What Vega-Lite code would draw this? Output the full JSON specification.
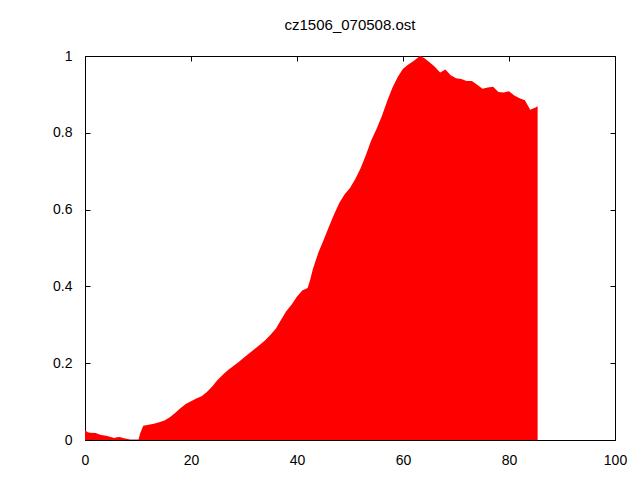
{
  "$schema": "https://vega.github.io/schema/vega-lite/v6.json",
  "width": 530,
  "height": 384,
  "autosize": {"type": "none"},
  "padding": {"left": 85, "top": 56, "right": 25, "bottom": 40},
  "background": "white",
  "title": {"text": "cz1506_070508.ost", "font": "Liberation Sans", "fontSize": 15, "fontWeight": "normal", "color": "black", "anchor": "middle", "baseline": "alphabetic", "offset": 4},
  "config": {
    "view": {"stroke": null},
    "axis": {"labelFont": "Liberation Sans", "labelFontSize": 14, "labelColor": "black", "domainColor": "black", "domainWidth": 1, "tickColor": "black", "tickWidth": 1, "grid": false, "zindex": 1, "title": null}
  },
  "data": {"values": [
    {"x": 0, "y": 0.026}, {"x": 0.5, "y": 0.02}, {"x": 1, "y": 0.019}, {"x": 2, "y": 0.018},
    {"x": 3, "y": 0.013}, {"x": 4, "y": 0.011}, {"x": 5, "y": 0.007}, {"x": 5.5, "y": 0.005},
    {"x": 6, "y": 0.007}, {"x": 6.6, "y": 0.008}, {"x": 7, "y": 0.006}, {"x": 7.6, "y": 0.004},
    {"x": 8.5, "y": 0.001}, {"x": 10.1, "y": 0.001}, {"x": 10.4, "y": 0.017}, {"x": 11, "y": 0.037},
    {"x": 12, "y": 0.04}, {"x": 13, "y": 0.042}, {"x": 14, "y": 0.046}, {"x": 15, "y": 0.051},
    {"x": 16, "y": 0.059}, {"x": 17, "y": 0.07}, {"x": 18, "y": 0.083}, {"x": 19, "y": 0.094},
    {"x": 20, "y": 0.101}, {"x": 21, "y": 0.108}, {"x": 22, "y": 0.114}, {"x": 23, "y": 0.125},
    {"x": 24, "y": 0.139}, {"x": 25, "y": 0.156}, {"x": 26, "y": 0.17}, {"x": 27, "y": 0.182},
    {"x": 28, "y": 0.193}, {"x": 29, "y": 0.203}, {"x": 30, "y": 0.215}, {"x": 31, "y": 0.226},
    {"x": 32, "y": 0.237}, {"x": 33, "y": 0.248}, {"x": 34, "y": 0.26}, {"x": 35, "y": 0.274},
    {"x": 36, "y": 0.29}, {"x": 37, "y": 0.313}, {"x": 38, "y": 0.336}, {"x": 39, "y": 0.353},
    {"x": 40, "y": 0.374}, {"x": 41, "y": 0.389}, {"x": 42, "y": 0.396}, {"x": 42.5, "y": 0.418},
    {"x": 43, "y": 0.445}, {"x": 44, "y": 0.487}, {"x": 45, "y": 0.52}, {"x": 46, "y": 0.555},
    {"x": 47, "y": 0.588}, {"x": 48, "y": 0.618}, {"x": 49, "y": 0.64}, {"x": 50, "y": 0.656},
    {"x": 51, "y": 0.68}, {"x": 52, "y": 0.708}, {"x": 53, "y": 0.742}, {"x": 54, "y": 0.78},
    {"x": 55, "y": 0.81}, {"x": 56, "y": 0.843}, {"x": 57, "y": 0.882}, {"x": 58, "y": 0.917},
    {"x": 59, "y": 0.945}, {"x": 60, "y": 0.967}, {"x": 61, "y": 0.978}, {"x": 62, "y": 0.987},
    {"x": 63.2, "y": 1.0}, {"x": 64, "y": 0.995}, {"x": 65, "y": 0.984}, {"x": 66, "y": 0.972},
    {"x": 67, "y": 0.957}, {"x": 68, "y": 0.965}, {"x": 69, "y": 0.95}, {"x": 70, "y": 0.942},
    {"x": 71, "y": 0.94}, {"x": 72, "y": 0.935}, {"x": 73, "y": 0.935}, {"x": 74, "y": 0.925},
    {"x": 75, "y": 0.915}, {"x": 76, "y": 0.918}, {"x": 77, "y": 0.92}, {"x": 78, "y": 0.906},
    {"x": 79, "y": 0.905}, {"x": 80, "y": 0.908}, {"x": 81, "y": 0.897}, {"x": 82, "y": 0.89},
    {"x": 83, "y": 0.885}, {"x": 84, "y": 0.86}, {"x": 85, "y": 0.866}, {"x": 85.4, "y": 0.869}
  ]},
  "resolve": {"axis": {"x": "independent", "y": "independent"}},
  "layer": [
    {
      "mark": {"type": "area", "color": "#ff0000", "interpolate": "linear"},
      "encoding": {
        "x": {"field": "x", "type": "quantitative", "scale": {"domain": [0, 100], "nice": false},
              "axis": {"orient": "bottom", "values": [0, 20, 40, 60, 80, 100], "tickSize": -5, "labelPadding": 18, "labelFlush": false}},
        "y": {"field": "y", "type": "quantitative", "scale": {"domain": [0, 1], "nice": false},
              "axis": {"orient": "left", "values": [0, 0.2, 0.4, 0.6, 0.8, 1], "format": "~g", "tickSize": -5, "labelPadding": 18, "labelFlush": false}}
      }
    },
    {
      "mark": {"type": "area", "opacity": 0},
      "encoding": {
        "x": {"field": "x", "type": "quantitative", "scale": {"domain": [0, 100], "nice": false},
              "axis": {"orient": "top", "values": [0, 20, 40, 60, 80, 100], "tickSize": -5, "labels": false}},
        "y": {"field": "y", "type": "quantitative", "scale": {"domain": [0, 1], "nice": false},
              "axis": {"orient": "right", "values": [0, 0.2, 0.4, 0.6, 0.8, 1], "tickSize": -5, "labels": false}}
      }
    }
  ]
}
